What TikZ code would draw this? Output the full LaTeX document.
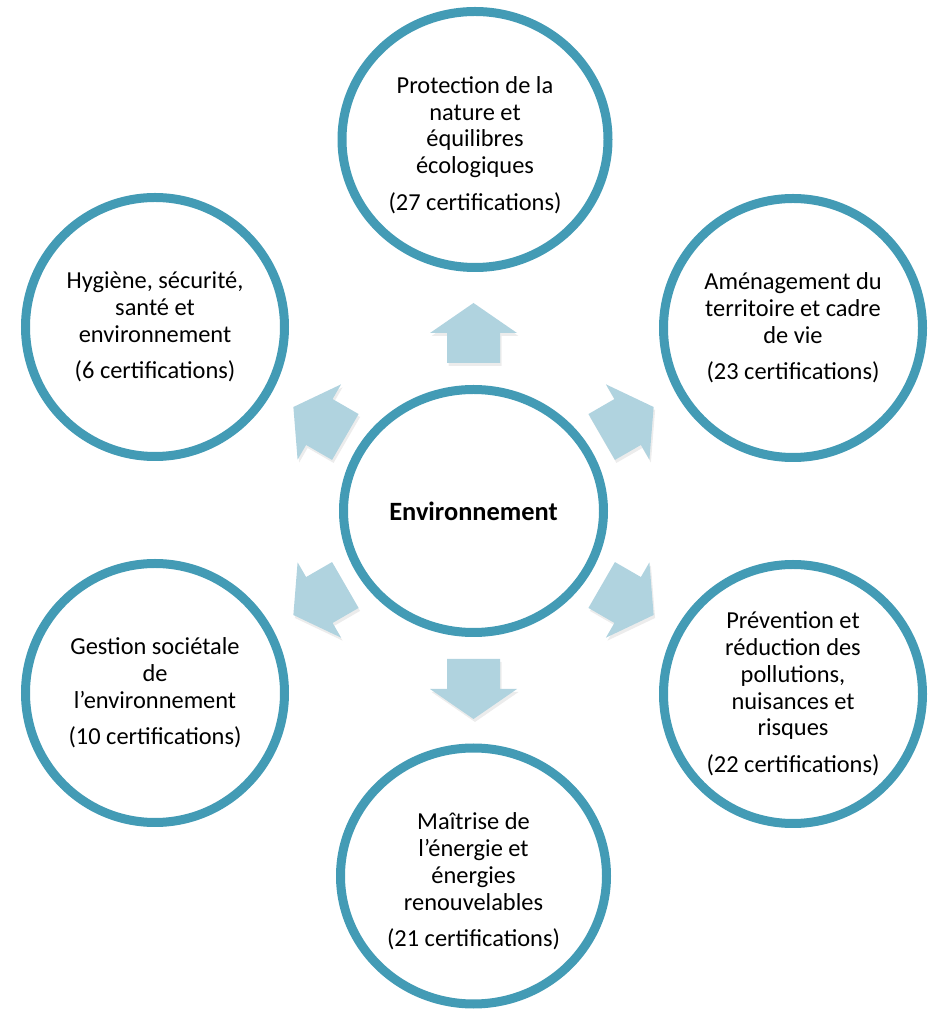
\documentclass[tikz,border=0pt]{standalone}
\usepackage{fontspec}
\setmainfont{Carlito}
\usetikzlibrary{shapes.geometric,shadows}
\definecolor{ringcol}{RGB}{67,155,181}
\definecolor{arrowcol}{RGB}{176,211,223}
\begin{document}
\begin{tikzpicture}[x=1pt,y=1pt,
  ring/.style={ellipse, draw=ringcol, line width=9pt, fill=white, align=center,
    font=\fontsize{24.4}{26.7}\selectfont, inner sep=0pt,
    drop shadow={shadow xshift=0pt, shadow yshift=-4pt, opacity=0.18, fill=black}},
  sidering/.style={ring, minimum width=259pt, minimum height=259pt},
  vring/.style={ring, minimum width=266pt, minimum height=256pt},
  blockarrow/.style={fill=arrowcol, draw=none,
    drop shadow={shadow xshift=1.5pt, shadow yshift=-3pt, opacity=0.15, fill=gray}}]
\useasboundingbox (0,0) rectangle (932,1013);

\node[ring, minimum width=260pt, minimum height=243pt,
  font=\fontsize{26.4}{30}\selectfont\bfseries] (C) at (473.5,502) {Environnement};

\foreach \a in {90,30,-30,-90,-150,150}{
  \begin{scope}[shift={(C.center)}, rotate=\a]
    \fill[blockarrow] (148,-26.5) -- (178,-26.5) -- (178,-43.5) -- (208,0)
      -- (178,43.5) -- (178,26.5) -- (148,26.5) -- cycle;
  \end{scope}
}

\node[vring] (T) at (475,873.5) {\rule{0pt}{28pt}Protection de la\\nature et\\équilibres\\écologiques\\[10pt](27 certifications)};
\node[sidering] (RU) at (793,685) {Aménagement du\\territoire et cadre\\de vie\\[10pt](23 certifications)};
\node[sidering] (RL) at (793,319) {Prévention et\\réduction des\\pollutions,\\nuisances et\\risques\\[10pt](22 certifications)};
\node[vring] (B) at (473.5,137) {\rule{0pt}{28pt}Maîtrise de\\l’énergie et\\énergies\\renouvelables\\[10pt](21 certifications)};
\node[sidering] (LL) at (155,320) {Gestion sociétale\\de\\l’environnement\\[10pt](10 certifications)};
\node[sidering] (LU) at (155,686) {Hygiène, sécurité,\\santé et\\environnement\\[10pt](6 certifications)};
\end{tikzpicture}
\end{document}
